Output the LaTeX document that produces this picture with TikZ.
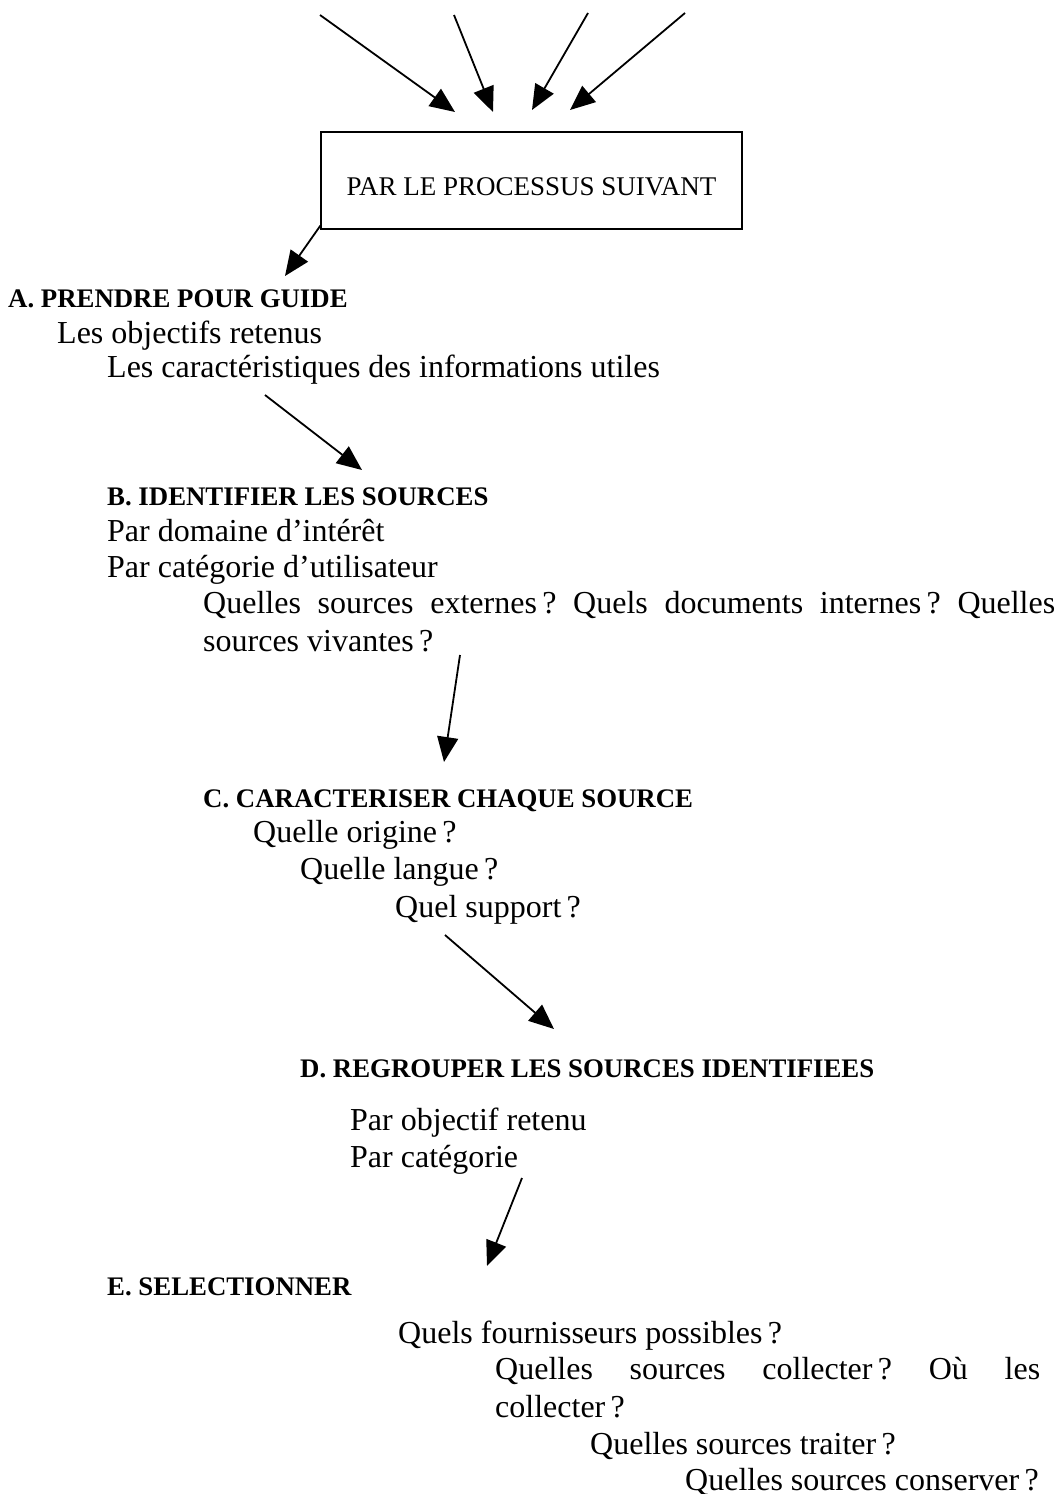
\documentclass[tikz,border=0pt]{standalone}
\usepackage{fontspec}
\setmainfont{Liberation Serif}
\usetikzlibrary{arrows.meta}
\frenchspacing
\begin{document}
\begin{tikzpicture}[x=1pt,y=-1pt,
  txt/.style={anchor=base west, inner sep=0pt, font=\fontsize{32}{36}\selectfont},
  hd/.style={anchor=base west, inner sep=0pt, font=\fontsize{26.8}{32}\selectfont\bfseries},
  flow/.style={line width=1.8pt, -{Triangle[length=25pt,width=21pt]}},
]
\useasboundingbox (0,0) rectangle (1064,1494);

% central box and its title
\node[draw, line width=1.2pt, minimum width=421pt, minimum height=97pt, inner sep=0pt] (box) at (531.5,180.5) {};
\node[inner sep=0pt, font=\fontsize{27}{32}\selectfont] (boxtxt) at ([yshift=-6pt]box.center) {PAR LE PROCESSUS SUIVANT};

% incoming arrows
\coordinate (in1) at (320,15);  \coordinate (to1) at (455,112);
\coordinate (in2) at (454,15);  \coordinate (to2) at (493,112);
\coordinate (in3) at (588,13);  \coordinate (to3) at (532,110);
\coordinate (in4) at (685,13);  \coordinate (to4) at (570,110);
\draw[flow] (in1) -- (to1);
\draw[flow] (in2) -- (to2);
\draw[flow] (in3) -- (to3);
\draw[flow] (in4) -- (to4);

% A
\node[hd]  (a0) at (8,307)   {A. PRENDRE POUR GUIDE};
\node[txt] (a1) at (57,343)  {Les objectifs retenus};
\node[txt] (a2) at (107,377) {Les caractéristiques des informations utiles};

% B
\node[hd]  (b0) at (107,505) {B. IDENTIFIER LES SOURCES};
\node[txt] (b1) at (107,541) {Par domaine d’intérêt};
\node[txt] (b2) at (107,577) {Par catégorie d’utilisateur};
\node[txt] (b3) at (203,613) {\makebox[852pt][s]{Quelles sources externes\,? Quels documents internes\,? Quelles}};
\node[txt] (b4) at (203,651) {sources vivantes\,?};

% C
\node[hd]  (c0) at (203,807) {C. CARACTERISER CHAQUE SOURCE};
\node[txt] (c1) at (253,842) {Quelle origine\,?};
\node[txt] (c2) at (300,879) {Quelle langue\,?};
\node[txt] (c3) at (395,917) {Quel support\,?};

% D
\node[hd]  (d0) at (300,1077) {D. REGROUPER LES SOURCES IDENTIFIEES};
\node[txt] (d1) at (350,1130) {Par objectif retenu};
\node[txt] (d2) at (350,1167) {Par catégorie};

% E
\node[hd]  (e0) at (107,1295) {E. SELECTIONNER};
\node[txt] (e1) at (398,1343) {Quels fournisseurs possibles\,?};
\node[txt] (e2) at (495,1379) {\makebox[545pt][s]{Quelles sources collecter\,? Où les}};
\node[txt] (e3) at (495,1417) {collecter\,?};
\node[txt] (e4) at (590,1454) {Quelles sources traiter\,?};
\node[txt] (e5) at (685,1490) {Quelles sources conserver\,?};

% links between the steps
\coordinate (pA) at (285,276);
\draw[flow] (box.south west) ++(0,-4) -- (pA);
\coordinate (sAB) at (265,395);  \coordinate (pB) at (362,470);
\draw[flow] (sAB) -- (pB);
\coordinate (sBC) at (460,655);  \coordinate (pC) at (444,762);
\draw[flow] (sBC) -- (pC);
\coordinate (sCD) at (445,935);  \coordinate (pD) at (554,1029);
\draw[flow] (sCD) -- (pD);
\coordinate (sDE) at (522,1178); \coordinate (pE) at (487,1266);
\draw[flow] (sDE) -- (pE);
\end{tikzpicture}
\end{document}
